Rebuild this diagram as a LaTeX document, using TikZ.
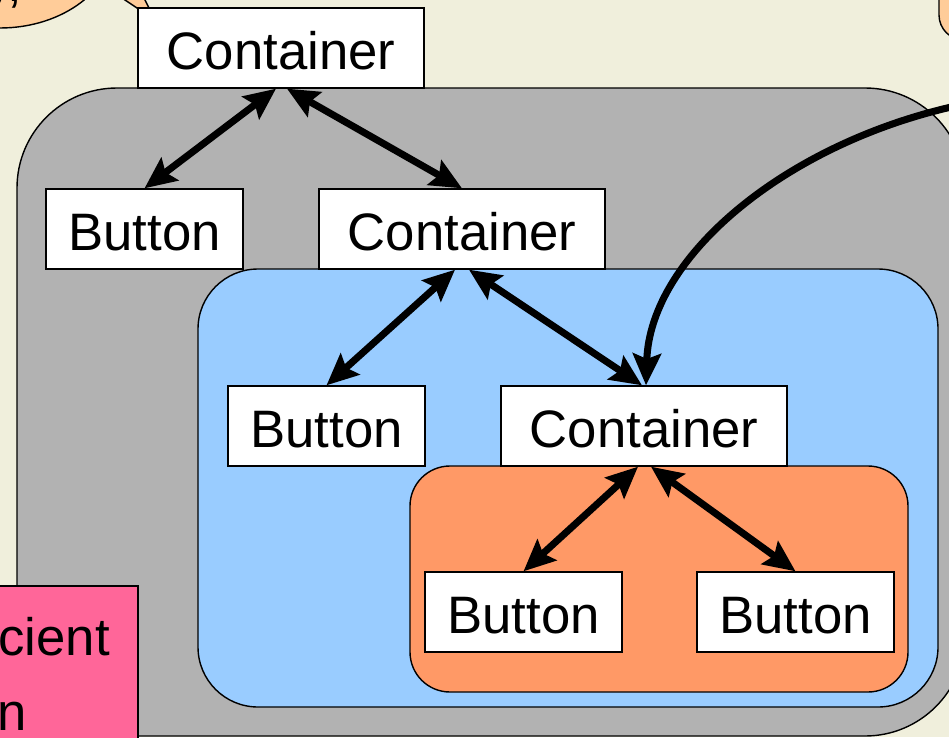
\documentclass[tikz,border=0pt]{standalone}
\usepackage{fontspec}
\setmainfont{Liberation Sans}
\usetikzlibrary{arrows.meta,positioning}

\definecolor{paper}{RGB}{240,239,220}
\definecolor{shell}{RGB}{178,178,178}
\definecolor{inner}{RGB}{153,204,255}
\definecolor{core}{RGB}{255,153,102}
\definecolor{note}{RGB}{255,102,153}
\definecolor{bubble}{RGB}{255,204,153}

\begin{document}
\begin{tikzpicture}[
    x=0.02cm, y=-0.02cm,
    big/.style={font=\fontsize{30}{36}\selectfont},
    box/.style={draw, line width=0.8pt, fill=white, inner sep=0pt, minimum height=1.6cm,
        text height=25pt, text depth=0pt, big},
    wide/.style={box, minimum width=5.72cm},
    narrow/.style={box, minimum width=3.94cm},
    link/.style={line width=4pt, {Stealth[length=18pt,width=16pt,inset=3pt]}-{Stealth[length=18pt,width=16pt,inset=3pt]}},
    call/.style={line width=4pt, -{Stealth[length=18pt,width=16pt,inset=3pt]}},
]
\useasboundingbox (0,0) rectangle (949,737);
\fill[paper] (0,0) rectangle (949,737);

% speech bubbles cut by the frame
\draw[line width=0.8pt, fill=bubble] (0,-60) ellipse [x radius=115, y radius=88];
\draw[line width=0.8pt, fill=bubble] (95,-20) -- (155,20) -- (135,-20);
\node[big, anchor=base east] (say) at (28,2) {),};
\draw[line width=0.8pt, fill=bubble, rounded corners=0.5cm] (939,-30) rectangle (1010,40);

% nested regions
\draw[line width=0.8pt, fill=shell, rounded corners=2cm] (17,88) rectangle (965,736);
\draw[line width=0.8pt, fill=inner, rounded corners=1.2cm] (198,269) rectangle (938,707);
\draw[line width=0.8pt, fill=core, rounded corners=0.8cm] (410,466) rectangle (908,692);

% note at the bottom left
\draw[line width=0.8pt, fill=note] (-10,586) rectangle (138,760);
\node[big, anchor=base east] (noteA) at (116,655) {Efficient};
\node[big, anchor=base east] (noteB) at (33,730) {implementation};

% tree of widgets
\node[wide] (top) at (281,48) {Container};
\node[narrow] (b1) at (144.5,229) {Button};
\node[wide] (c2) at (462,229) {Container};
\node[narrow] (b2) at (326.5,426) {Button};
\node[wide] (c3) at (644,426) {Container};
\node[narrow] (b3) at (523.5,612) {Button};
\node[narrow] (b4) at (795.5,612) {Button};

\draw[link] ([xshift=-0.1cm]top.south) -- (b1.north);
\draw[link] ([xshift=0.12cm]top.south) -- (c2.north);
\draw[link] ([xshift=-0.14cm]c2.south) -- (b2.north);
\draw[link] ([xshift=0.14cm]c2.south) -- ([xshift=-0.04cm]c3.north);
\draw[link] ([xshift=-0.12cm]c3.south) -- (b3.north);
\draw[link] ([xshift=0.14cm]c3.south) -- (b4.north);

% reference coming in from the right
\coordinate (rim) at (965,104);
\draw[call] (rim) .. controls (790,140) and (650,255) .. ([xshift=0.04cm]c3.north);
\end{tikzpicture}
\end{document}
